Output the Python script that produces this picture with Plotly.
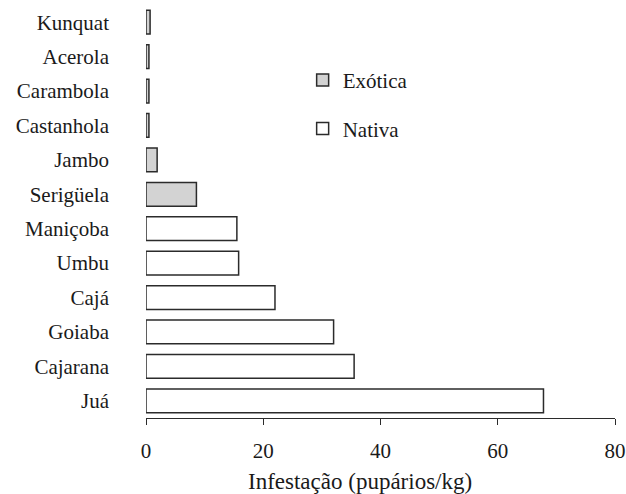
import plotly.graph_objects as go

categories = ["Kunquat", "Acerola", "Carambola", "Castanhola", "Jambo", "Serigüela",
              "Maniçoba", "Umbu", "Cajá", "Goiaba", "Cajarana", "Juá"]
exotic_cats = ["Kunquat", "Acerola", "Carambola", "Castanhola", "Jambo", "Serigüela"]
exotic_vals = [0.7, 0.5, 0.5, 0.5, 1.9, 8.6]
native_cats = ["Maniçoba", "Umbu", "Cajá", "Goiaba", "Cajarana", "Juá"]
native_vals = [15.5, 15.8, 22.0, 32.0, 35.5, 67.8]
x_ticks = [0, 20, 40, 60, 80]

FONT = "Liberation Serif, Times New Roman, serif"
LINE = "#2b2b2b"

fig = go.Figure()
fig.add_trace(go.Bar(
    y=exotic_cats, x=exotic_vals, orientation="h", name="Exótica",
    legendgroup="a",
    marker=dict(color="#d3d3d3", line=dict(color=LINE, width=1.5)),
))
fig.add_trace(go.Bar(
    y=native_cats, x=native_vals, orientation="h", name="Nativa",
    legendgroup="b",
    marker=dict(color="white", line=dict(color=LINE, width=1.5)),
))

fig.update_layout(
    width=626, height=494,
    margin=dict(l=146, r=11, t=5, b=76, autoexpand=False),
    paper_bgcolor="white", plot_bgcolor="white",
    barmode="overlay", bargap=0.31,
    font=dict(family=FONT, size=21, color="#1a1a1a"),
    showlegend=True,
    legend=dict(
        x=0.334, y=0.867, xanchor="left", yanchor="top",
        font=dict(family=FONT, size=21, color="#1a1a1a"),
        traceorder="grouped", tracegroupgap=18,
        bgcolor="rgba(0,0,0,0)",
    ),
    xaxis=dict(
        range=[0, 80], tickvals=x_ticks, ticktext=[str(t) for t in x_ticks],
        showgrid=False, zeroline=False,
        showline=True, linecolor=LINE, linewidth=1,
        ticks="outside", ticklen=6, tickcolor=LINE, tickwidth=1,
        tickfont=dict(family=FONT, size=21),
        ticklabelstandoff=8,
    ),
    yaxis=dict(
        categoryorder="array", categoryarray=categories,
        autorange="reversed",
        showgrid=False, zeroline=False, showline=False,
        ticks="", tickfont=dict(family=FONT, size=21),
        ticklabelstandoff=36,
    ),
    annotations=[dict(
        text="Infestação (pupários/kg)", xref="paper", yref="paper",
        x=0.456, y=-0.153, xanchor="center", yanchor="middle",
        showarrow=False, font=dict(family=FONT, size=23, color="#1a1a1a"),
    )],
)

fig.write_html("out.html", config={"displayModeBar": False},
               post_script="document.body.style.margin='0';")
